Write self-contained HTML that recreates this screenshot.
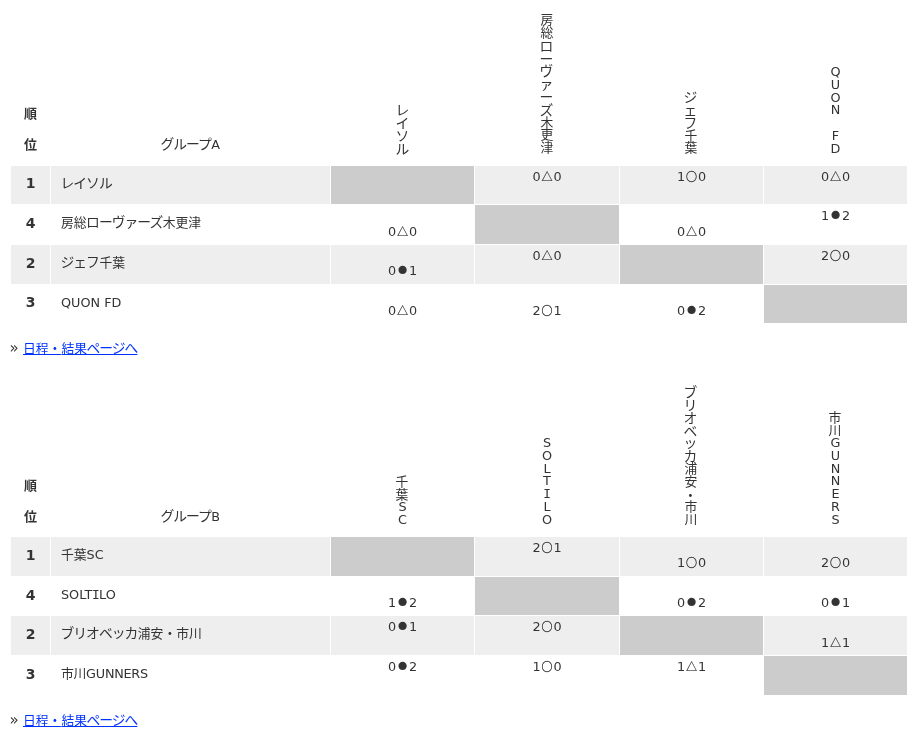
<!DOCTYPE html>
<html lang="ja"><head><meta charset="utf-8"><title>グループ順位表</title><style>
html,body{margin:0;padding:0;background:#fff;}
body{width:912px;height:735px;position:relative;overflow:hidden;font-family:"DejaVu Sans","Liberation Sans","Noto Sans CJK JP",sans-serif;font-size:12.8px;color:#333;line-height:1;}
.bg{position:absolute;}
.l{background:#eee;}
.d{background:#ccc;}
.t{position:absolute;white-space:nowrap;line-height:20px;height:20px;}
.rk{font-weight:bold;font-size:14px;text-align:center;width:39px;left:11px;}
.nm{left:61px;}
.sc{width:143px;text-align:center;}
.sy{font-family:"Noto Sans CJK JP",sans-serif;display:inline-block;width:12.8px;text-align:center;line-height:1;}
.sy.sb{font-size:9.2px;vertical-align:2.3px;}
.sy.st{font-size:11.2px;vertical-align:0px;-webkit-text-stroke:0.2px #333;}
.sy.so{font-size:11px;vertical-align:-0.2px;-webkit-text-stroke:0.3px #333;}
.k{font-size:13.8px;letter-spacing:-1px;margin-left:-0.5px;margin-right:0.5px;line-height:0;}
.si{font-family:"DejaVu Sans Mono","Liberation Mono",monospace;margin:0 -0.5px;}
.rq{display:inline-block;width:13px;font-size:15px;line-height:0;position:relative;top:0px;left:-0.4px;}
.v{position:absolute;writing-mode:vertical-rl;text-orientation:upright;white-space:nowrap;line-height:20px;width:20px;font-feature-settings:"vert" 0;}
.v .la{letter-spacing:-2.2px;position:relative;left:1.5px;top:-1px;}
.v .kk{font-size:13.8px;letter-spacing:-1px;line-height:0;}
.v .si{margin:0;}
a{color:#0033ff;text-decoration:underline;}
</style></head><body>
<div class="bg l" style="left:11px;top:166px;width:39px;height:38px"></div>
<div class="bg l" style="left:51px;top:166px;width:279px;height:38px"></div>
<div class="bg l" style="left:475px;top:166px;width:144px;height:38px"></div>
<div class="bg l" style="left:620px;top:166px;width:143px;height:38px"></div>
<div class="bg l" style="left:764px;top:166px;width:143px;height:38px"></div>
<div class="bg d" style="left:331px;top:166px;width:143px;height:38px"></div>
<div class="bg d" style="left:475px;top:205px;width:144px;height:39px"></div>
<div class="bg l" style="left:11px;top:245px;width:39px;height:39px"></div>
<div class="bg l" style="left:51px;top:245px;width:279px;height:39px"></div>
<div class="bg l" style="left:331px;top:245px;width:143px;height:39px"></div>
<div class="bg l" style="left:475px;top:245px;width:144px;height:39px"></div>
<div class="bg l" style="left:764px;top:245px;width:143px;height:39px"></div>
<div class="bg d" style="left:620px;top:245px;width:143px;height:39px"></div>
<div class="bg d" style="left:764px;top:285px;width:143px;height:38px"></div>
<div class="t rk" style="top:104px;font-size:13px">順</div>
<div class="t rk" style="top:135px;font-size:13px">位</div>
<div class="t" style="left:51px;width:279px;text-align:center;top:135px"><span class="k">グループ</span>A</div>
<div class="v" style="left:391.5px;top:102.8px"><span class="kk">レイソル</span></div>
<div class="v" style="left:535.5px;top:13.2px">房総<span class="kk">ローヴァーズ</span>木更津</div>
<div class="v" style="left:679.5px;top:90.0px"><span class="kk">ジェフ</span>千葉</div>
<div class="v" style="left:823.5px;top:65.4px"><span class="la">QUON FD</span></div>
<div class="t rk" style="top:173px">1</div>
<div class="t nm" style="top:174px"><span class="k">レイソル</span></div>
<div class="t sc" style="left:475px;width:144px;top:167px">0<span class="sy st">△</span>0</div>
<div class="t sc" style="left:620px;width:143px;top:167px">1<span class="sy so">○</span>0</div>
<div class="t sc" style="left:764px;width:143px;top:167px">0<span class="sy st">△</span>0</div>
<div class="t rk" style="top:213px">4</div>
<div class="t nm" style="top:213px">房総<span class="k">ローヴァーズ</span>木更津</div>
<div class="t sc" style="left:331px;width:143px;top:222px">0<span class="sy st">△</span>0</div>
<div class="t sc" style="left:620px;width:143px;top:222px">0<span class="sy st">△</span>0</div>
<div class="t sc" style="left:764px;width:143px;top:206px">1<span class="sy sb">●</span>2</div>
<div class="t rk" style="top:253px">2</div>
<div class="t nm" style="top:253px"><span class="k">ジェフ</span>千葉</div>
<div class="t sc" style="left:331px;width:143px;top:261px">0<span class="sy sb">●</span>1</div>
<div class="t sc" style="left:475px;width:144px;top:246px">0<span class="sy st">△</span>0</div>
<div class="t sc" style="left:764px;width:143px;top:246px">2<span class="sy so">○</span>0</div>
<div class="t rk" style="top:292px">3</div>
<div class="t nm" style="top:293px">QUON FD</div>
<div class="t sc" style="left:331px;width:143px;top:301px">0<span class="sy st">△</span>0</div>
<div class="t sc" style="left:475px;width:144px;top:301px">2<span class="sy so">○</span>1</div>
<div class="t sc" style="left:620px;width:143px;top:301px">0<span class="sy sb">●</span>2</div>
<div class="t" style="left:10px;top:339px"><span class="rq">»</span><a>日程<span class="k">・</span>結果<span class="k">ページへ</span></a></div>
<div class="bg l" style="left:11px;top:537px;width:39px;height:39px"></div>
<div class="bg l" style="left:51px;top:537px;width:279px;height:39px"></div>
<div class="bg l" style="left:475px;top:537px;width:144px;height:39px"></div>
<div class="bg l" style="left:620px;top:537px;width:143px;height:39px"></div>
<div class="bg l" style="left:764px;top:537px;width:143px;height:39px"></div>
<div class="bg d" style="left:331px;top:537px;width:143px;height:39px"></div>
<div class="bg d" style="left:475px;top:577px;width:144px;height:38px"></div>
<div class="bg l" style="left:11px;top:616px;width:39px;height:39px"></div>
<div class="bg l" style="left:51px;top:616px;width:279px;height:39px"></div>
<div class="bg l" style="left:331px;top:616px;width:143px;height:39px"></div>
<div class="bg l" style="left:475px;top:616px;width:144px;height:39px"></div>
<div class="bg l" style="left:764px;top:616px;width:143px;height:39px"></div>
<div class="bg d" style="left:620px;top:616px;width:143px;height:39px"></div>
<div class="bg d" style="left:764px;top:656px;width:143px;height:39px"></div>
<div class="t rk" style="top:476px;font-size:13px">順</div>
<div class="t rk" style="top:507px;font-size:13px">位</div>
<div class="t" style="left:51px;width:279px;text-align:center;top:507px"><span class="k">グループ</span>B</div>
<div class="v" style="left:390.5px;top:474.8px">千葉<span class="la">SC</span></div>
<div class="v" style="left:535px;top:436.4px"><span class="la">SOLT<span class="si">I</span>LO</span></div>
<div class="v" style="left:679.5px;top:385.2px"><span class="kk">ブリオベッカ</span>浦安<span class="kk">・</span>市川</div>
<div class="v" style="left:823.5px;top:410.8px">市川<span class="la">GUNNERS</span></div>
<div class="t rk" style="top:545px">1</div>
<div class="t nm" style="top:545px">千葉SC</div>
<div class="t sc" style="left:475px;width:144px;top:538px">2<span class="sy so">○</span>1</div>
<div class="t sc" style="left:620px;width:143px;top:553px">1<span class="sy so">○</span>0</div>
<div class="t sc" style="left:764px;width:143px;top:553px">2<span class="sy so">○</span>0</div>
<div class="t rk" style="top:585px">4</div>
<div class="t nm" style="top:585px">SOLT<span class="si">I</span>LO</div>
<div class="t sc" style="left:331px;width:143px;top:593px">1<span class="sy sb">●</span>2</div>
<div class="t sc" style="left:620px;width:143px;top:593px">0<span class="sy sb">●</span>2</div>
<div class="t sc" style="left:764px;width:143px;top:593px">0<span class="sy sb">●</span>1</div>
<div class="t rk" style="top:624px">2</div>
<div class="t nm" style="top:624px"><span class="k">ブリオベッカ</span>浦安<span class="k">・</span>市川</div>
<div class="t sc" style="left:331px;width:143px;top:617px">0<span class="sy sb">●</span>1</div>
<div class="t sc" style="left:475px;width:144px;top:617px">2<span class="sy so">○</span>0</div>
<div class="t sc" style="left:764px;width:143px;top:633px">1<span class="sy st">△</span>1</div>
<div class="t rk" style="top:664px">3</div>
<div class="t nm" style="top:664px;letter-spacing:-0.25px">市川GUNNERS</div>
<div class="t sc" style="left:331px;width:143px;top:657px">0<span class="sy sb">●</span>2</div>
<div class="t sc" style="left:475px;width:144px;top:657px">1<span class="sy so">○</span>0</div>
<div class="t sc" style="left:620px;width:143px;top:657px">1<span class="sy st">△</span>1</div>
<div class="t" style="left:10px;top:711px"><span class="rq">»</span><a>日程<span class="k">・</span>結果<span class="k">ページへ</span></a></div>
</body></html>
